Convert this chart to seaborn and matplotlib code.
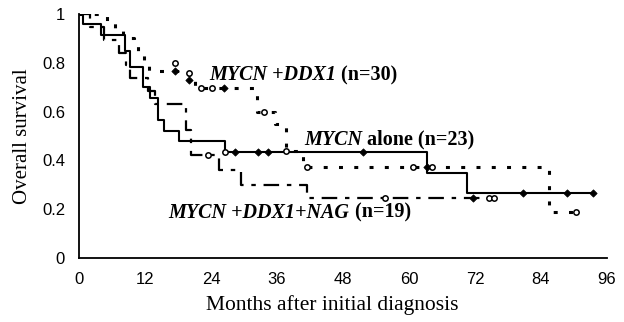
import matplotlib
matplotlib.use("Agg")
import matplotlib.pyplot as plt
import seaborn as sns
import pandas as pd
from matplotlib.transforms import offset_copy

# ---- data ----
solid_t = [0, 0.7, 4.0, 8.4, 9.3, 11.7, 12.9, 14.4, 15.5, 18.2, 26.5, 63.3, 70.6, 93.6]
solid_s = [1.0, 0.957, 0.913, 0.848, 0.783, 0.70, 0.655, 0.565, 0.522, 0.478, 0.435, 0.35, 0.266, 0.266]

dotted_t = [0, 5.0, 6.5, 8.0, 10.0, 10.8, 11.8, 12.8, 20.0, 21.0, 32.3, 35.6, 37.6, 40.7, 85.4, 90.3]
dotted_s = [1.0, 0.967, 0.933, 0.90, 0.867, 0.833, 0.80, 0.767, 0.733, 0.695, 0.60, 0.55, 0.44, 0.373, 0.19, 0.19]

dashdot_t = [0, 2.0, 4.5, 7.3, 8.5, 9.3, 12.5, 13.9, 19.5, 20.4, 25.5, 29.4, 41.4, 75.4]
dashdot_s = [1.0, 0.947, 0.895, 0.842, 0.789, 0.737, 0.684, 0.632, 0.526, 0.421, 0.361, 0.30, 0.246, 0.246]

open_t = [17.5, 20.0, 22.2, 24.2, 33.6, 37.6, 41.4, 60.8, 64.2, 90.3, 26.5, 23.4, 55.7, 74.5, 75.4]
open_s = [0.80, 0.76, 0.695, 0.695, 0.60, 0.44, 0.373, 0.373, 0.373, 0.19, 0.435, 0.421, 0.246, 0.246, 0.246]

filled_t = [17.5, 20.0, 26.4, 28.3, 32.5, 34.3, 51.6, 63.3, 80.7, 88.7, 93.4, 71.7]
filled_s = [0.767, 0.73, 0.695, 0.435, 0.435, 0.435, 0.435, 0.373, 0.266, 0.266, 0.266, 0.246]

x_ticks = [0, 12, 24, 36, 48, 60, 72, 84, 96]
y_ticks = [0, 0.2, 0.4, 0.6, 0.8, 1.0]
y_ticklabels = ["0", "0.2", "0.4", "0.6", "0.8", "1"]

labels = [
    # (x, y, italic part, upright part)
    (23.6, 0.75, "MYCN +DDX1", " (n=30)"),
    (41.0, 0.485, "MYCN", " alone (n=23)"),
    (16.3, 0.185, "MYCN +DDX1+NAG", " (n=19)"),
]

# ---- plot ----
sns.set_theme(style="white")
plt.rcParams["font.family"] = ["Liberation Sans", "DejaVu Sans"]

fig = plt.figure(figsize=(6.24, 3.22), dpi=100)
ax = fig.add_axes([79 / 624, 1 - 258 / 322, (607 - 79) / 624, (258 - 14) / 322])

df_solid = pd.DataFrame({"t": solid_t, "s": solid_s})
df_dot = pd.DataFrame({"t": dotted_t, "s": dotted_s})
df_dd = pd.DataFrame({"t": dashdot_t, "s": dashdot_s})

sns.lineplot(data=df_solid, x="t", y="s", ax=ax, color="black", lw=1.5,
             drawstyle="steps-post", estimator=None, sort=False)
sns.lineplot(data=df_dot, x="t", y="s", ax=ax, color="black", lw=2.2,
             drawstyle="steps-post", estimator=None, sort=False,
             linestyle=(0, (1.3, 3.7)))
sns.lineplot(data=df_dd, x="t", y="s", ax=ax, color="black", lw=1.6,
             drawstyle="steps-post", estimator=None, sort=False,
             linestyle=(0, (7, 3.5, 2, 3.5)))

sns.scatterplot(x=filled_t, y=filled_s, ax=ax, marker="D", s=14,
                color="black", edgecolor="black", linewidth=0.5, zorder=5)
sns.scatterplot(x=open_t, y=open_s, ax=ax, marker="o", s=15,
                facecolor="white", edgecolor="black", linewidth=1.1, zorder=6)

ax.set_xlim(0, 96)
ax.set_ylim(0, 1)
ax.set_xticks(x_ticks)
ax.set_xticklabels([str(v) for v in x_ticks])
ax.set_yticks(y_ticks)
ax.set_yticklabels(y_ticklabels)
ax.tick_params(direction="in", length=4, width=1, colors="black",
               labelsize=12)
ax.tick_params(axis="x", pad=10)
ax.tick_params(axis="y", pad=10)
for side in ["top", "right"]:
    ax.spines[side].set_visible(False)
for side in ["left", "bottom"]:
    ax.spines[side].set_color("black")
    ax.spines[side].set_linewidth(1.3)

ax.set_xlabel("Months after initial diagnosis", fontfamily="Liberation Serif",
              fontsize=15.5, color="black")
ax.xaxis.set_label_coords(0.48, -0.15)
ax.set_ylabel("Overall survival", fontfamily="Liberation Serif",
              fontsize=15, color="black", labelpad=7)

fig.canvas.draw()
renderer = fig.canvas.get_renderer()
for x, y, it, up in labels:
    t1 = ax.text(x, y, it, fontfamily="Liberation Serif", fontstyle="italic",
                 fontweight="bold", fontsize=14.5, va="center", ha="left",
                 color="black", zorder=10)
    bb = t1.get_window_extent(renderer=renderer)
    w_pts = bb.width * 72 / fig.dpi
    tr = offset_copy(ax.transData, fig=fig, x=w_pts, y=0, units="points")
    ax.text(x, y, up, fontfamily="Liberation Serif", fontweight="bold",
            fontsize=14.5, va="center", ha="left", color="black",
            transform=tr, zorder=10)

fig.savefig("out.png", dpi=100, facecolor="white")
